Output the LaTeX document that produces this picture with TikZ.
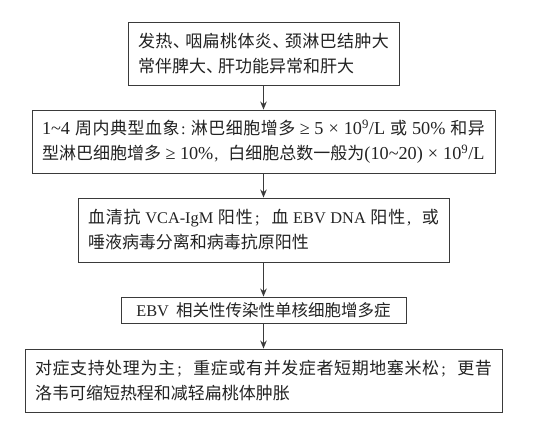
\documentclass[tikz,border=0pt]{standalone}
\usepackage{fontspec}
\setmainfont{Noto Sans CJK SC}
\newfontfamily\latfont[Scale=0.96]{Liberation Serif}
\newcommand{\latx}[1]{{\latfont #1}}
\newcommand{\latbig}[1]{{\latfont\fontsize{19}{25}\selectfont #1}}
% inter-character glue between CJK ideographs, so that full lines are justified
\newcommand{\cjkglue}{\hskip 0pt plus 3pt minus 1.5pt\relax}
\newXeTeXintercharclass\cjkclass
\makeatletter
\count@="4E00
\loop\ifnum\count@<"A000 \XeTeXcharclass\count@=\cjkclass\relax\advance\count@\@ne\repeat
\makeatother
\XeTeXinterchartokenstate=1
\XeTeXinterchartoks\cjkclass\cjkclass = {\cjkglue}
% punctuation cells
\newcommand{\dunh}{\cjkglue\makebox[12pt][l]{、}\cjkglue}
\newcommand{\semi}{\cjkglue\makebox[17pt][l]{\hspace{1.5pt}\latx{;}}\cjkglue}
\newcommand{\comm}{\cjkglue\makebox[15pt][l]{\hspace{1pt}\latx{,}}\cjkglue}
\newcommand{\colo}{\cjkglue\makebox[10pt][l]{\hspace{1pt}\latx{:}}\cjkglue}
\newcommand{\tms}{\hspace{5pt}×\hspace{5pt}}
\newcommand{\geqs}{\hspace{4.5pt}≥\hspace{4.5pt}}
\usetikzlibrary{arrows.meta}
\definecolor{linec}{HTML}{3A3A3A}
\definecolor{textc}{HTML}{222222}
\tikzset{
  flowbox/.style={draw=linec, line width=0.9pt, inner xsep=10pt, inner ysep=0pt,
    align=justify, text=textc, font=\fontsize{17}{25}\selectfont},
  flowarrow/.style={draw=linec, line width=0.9pt, -{Stealth[length=8pt,width=6.5pt]}}
}
\begin{document}
\begin{tikzpicture}[x=1pt,y=1pt]
\useasboundingbox (0,0) rectangle (555,-423);
\node[flowbox, text width=251pt, minimum height=63pt] (b1) at (263.5,-53.5)
  {\tolerance=10000\rightskip=7pt\relax
   发热\dunh 咽扁桃体炎\dunh 颈淋巴结肿大\linebreak 常伴脾大\dunh 肝功能异常和肝大};
\node[flowbox, text width=443pt, minimum height=63pt] (b2) at (263.5,-141.5)
  {\tolerance=10000\rightskip=1pt\relax
   \latbig{1\textasciitilde4 }周内典型血象\colo 淋巴细胞增多\latbig{\geqs 5\tms 10\textsuperscript{9}/L }或\latbig{ 50\% }和异\linebreak
   型淋巴细胞增多\latbig{\geqs 10\%}\comm 白细胞总数一般为\latbig{(10\textasciitilde20)\tms 10\textsuperscript{9}/L}};
\node[flowbox, text width=351pt, minimum height=64pt] (b3) at (263.5,-230)
  {\tolerance=10000\rightskip=1pt\relax
   血清抗\latx{ VCA-IgM }阳性\semi 血\latx{ EBV DNA }阳性\comm 或\linebreak 唾液病毒分离和病毒抗原阳性};
\node[flowbox, align=center, font=\fontsize{16.5}{25}\selectfont, minimum width=285pt, minimum height=26pt] (b4) at (263.5,-310)
  {{\latfont\fontsize{17}{25}\selectfont EBV\hspace{3pt} }相关性传染性单核细胞增多症};
\node[flowbox, text width=457pt, minimum height=63pt] (b5) at (263.5,-380.5)
  {\tolerance=10000\rightskip=1pt\relax
   对症支持处理为主\semi 重症或有并发症者短期地塞米松\semi 更昔\linebreak 洛韦可缩短热程和减轻扁桃体肿胀};
\draw[flowarrow] (b1) -- (b2);
\draw[flowarrow] (b2) -- (b3);
\draw[flowarrow] (b3) -- (b4);
\draw[flowarrow] (b4) -- (b5);
\end{tikzpicture}
\end{document}
